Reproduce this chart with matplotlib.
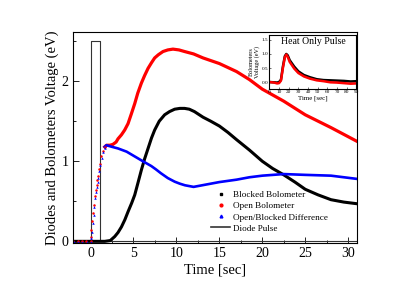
import matplotlib
matplotlib.use('Agg')
import matplotlib.pyplot as plt
from matplotlib.lines import Line2D

plt.rcParams['font.family'] = ['Liberation Serif', 'DejaVu Serif']

# ---------- main panel data ----------
pulse_t = [-2, 0, 0, 1.05, 1.05, 31]
pulse_v = [0, 0, 2.5, 2.5, 0, 0]

# steep dotted rise shared by open bolometer / difference
rise_t = [-2, -1.5, -1, -0.5, 0, 0.05, 0.11, 0.2, 0.31, 0.4, 0.5, 0.6, 0.7, 0.8, 0.89, 1.0, 1.1, 1.27, 1.45, 1.66]
rise_v = [0.01, 0.01, 0.01, 0.01, 0.01, 0.06, 0.14, 0.25, 0.35, 0.45, 0.56, 0.64, 0.7, 0.76, 0.81, 0.9, 0.97, 1.06, 1.13, 1.18]

blocked_t = [-2, 1.66, 2.3, 2.82, 3.2, 3.6, 4.0, 4.37, 4.8, 5.15, 5.5, 5.92, 6.3, 6.7, 7.1, 7.47, 8.0, 8.63, 9.2, 9.8, 10.4, 10.95,
             11.5, 12.1, 13.1, 14, 15, 16, 17, 18.5, 20, 21.2, 22.5, 23.8, 25, 26.5, 28, 29.5, 31]
blocked_v = [0, 0, 0.01, 0.06, 0.11, 0.18, 0.27, 0.37, 0.48, 0.58, 0.72, 0.89, 1.03, 1.16, 1.29, 1.39, 1.5, 1.58, 1.62, 1.65, 1.66, 1.66,
             1.65, 1.62, 1.55, 1.5, 1.44, 1.36, 1.27, 1.14, 1.0, 0.91, 0.83, 0.74, 0.65, 0.58, 0.52, 0.49, 0.47]

open_t = [1.66, 1.86, 2.24, 2.6, 2.98, 3.2, 3.6, 3.98, 4.37, 4.75, 5.15, 5.5, 5.92, 6.3, 6.7, 7.1, 7.47, 7.9, 8.44, 9.0, 9.6, 10.3, 10.95,
          12, 13.1, 15, 17, 18.5, 20, 22.5, 25, 28, 31]
open_v = [1.18, 1.2, 1.2, 1.21, 1.24, 1.28, 1.33, 1.39, 1.47, 1.59, 1.72, 1.85, 1.975, 2.07, 2.16, 2.23, 2.29, 2.33, 2.37, 2.39, 2.4, 2.39, 2.37,
          2.34, 2.29, 2.22, 2.12, 2.02, 1.9, 1.75, 1.58, 1.42, 1.25]

diff_t = [1.66, 1.86, 2.5, 3.2, 4.2, 5.15, 6.1, 7.08, 7.6, 8.2, 9.0, 9.8, 10.4, 11, 12, 13, 14, 15, 17, 18.5, 20, 22.5, 25, 28, 31]
diff_v = [1.18, 1.2, 1.18, 1.16, 1.12, 1.06, 1.0, 0.94, 0.9, 0.85, 0.79, 0.745, 0.72, 0.7, 0.68, 0.7, 0.72, 0.74, 0.77, 0.8, 0.82, 0.84, 0.83, 0.82, 0.78]

# ---------- inset data ----------
in_t = [0, 5, 8, 10, 12, 14, 16, 17.5, 19, 21, 25.7, 30, 35.7, 42, 49, 56, 63, 70, 77, 84, 90]
in_red = [0.0, -0.02, -0.05, -0.04, 0.05, 0.5, 0.88, 0.98, 0.9, 0.72, 0.48, 0.32, 0.2, 0.12, 0.06, 0.03, -0.01, -0.02, -0.04, -0.06, -0.05]
in_black = [0.0, -0.01, -0.02, 0.0, 0.08, 0.55, 0.92, 1.0, 0.95, 0.78, 0.55, 0.38, 0.25, 0.17, 0.1, 0.07, 0.06, 0.05, 0.04, 0.02, 0.03]

fig = plt.figure(figsize=(4.15, 2.91), dpi=100)
ax = fig.add_axes([0.1767, 0.1665, 0.683, 0.7225])

ax.plot(pulse_t, pulse_v, color='#333333', lw=0.8)
ax.plot(blocked_t, blocked_v, color='black', lw=2.2)
ax.plot(open_t, open_v, color='red', lw=2.3)
ax.plot(diff_t, diff_v, color='blue', lw=1.9)
ax.plot(rise_t, rise_v, color='red', ls='none', marker='o', ms=1.8, mew=0)
ax.plot([t + 0.04 for t in rise_t], [v - 0.02 for v in rise_v], color='blue', ls='none', marker='^', ms=1.8, mew=0)

ax.set_xlim(-2, 31)
ax.set_ylim(-0.015, 2.61)
ax.set_xticks([0, 5, 10, 15, 20, 25, 30])
ax.set_xticks([2.5, 7.5, 12.5, 17.5, 22.5, 27.5], minor=True)
ax.set_yticks([0, 1, 2])
ax.set_yticks([0.5, 1.5, 2.5], minor=True)
ax.tick_params(which='both', direction='in', labelsize=10, width=0.6)
ax.tick_params(which='major', length=4)
ax.tick_params(which='minor', length=2)
for s in ax.spines.values():
    s.set_linewidth(0.8)
ax.set_xlabel('Time [sec]', fontsize=10.5, labelpad=2)
ax.set_ylabel('Diodes and Bolometers Voltage (eV)', fontsize=10.5, labelpad=2)

handles = [
    Line2D([], [], color='black', marker='s', ls='none', ms=2),
    Line2D([], [], color='red', marker='o', ls='none', ms=2),
    Line2D([], [], color='blue', marker='^', ls='none', ms=2),
    Line2D([], [], color='#333333', lw=1.2),
]
labels = ['Blocked Bolometer', 'Open Bolometer', 'Open/Blocked Difference', 'Diode Pulse']
ax.legend(handles, labels, loc='upper left', bbox_to_anchor=(0.47, 0.268), frameon=False,
          fontsize=6.6, handlelength=2.1, handletextpad=0.3, labelspacing=0.3, borderpad=0)

# ---------- inset ----------
ins = fig.add_axes([0.649, 0.694, 0.21, 0.186])
ins.plot(in_t, in_black, color='black', lw=1.8)
ins.plot(in_t, in_red, color='red', lw=1.8)
ins.set_xlim(0, 90)
ins.set_ylim(-0.25, 1.68)
ins.set_xticks(range(0, 91, 10))
ins.set_yticks([0.0, 0.5, 1.0, 1.5])
ins.set_yticklabels(['0.0', '0.5', '1.0', '1.5'])
ins.tick_params(direction='in', labelsize=3.8, length=1.5, width=0.4, pad=1)
for s in ins.spines.values():
    s.set_linewidth(0.8)
ins.set_xlabel('Time [sec]', fontsize=5, labelpad=1)
ins.set_ylabel('Bolometers\nVoltage (eV)', fontsize=4.5, labelpad=1, linespacing=1.0)
ins.text(0.5, 0.88, 'Heat Only Pulse', transform=ins.transAxes, ha='center', va='center', fontsize=7)

fig.savefig('out.png', dpi=100)
